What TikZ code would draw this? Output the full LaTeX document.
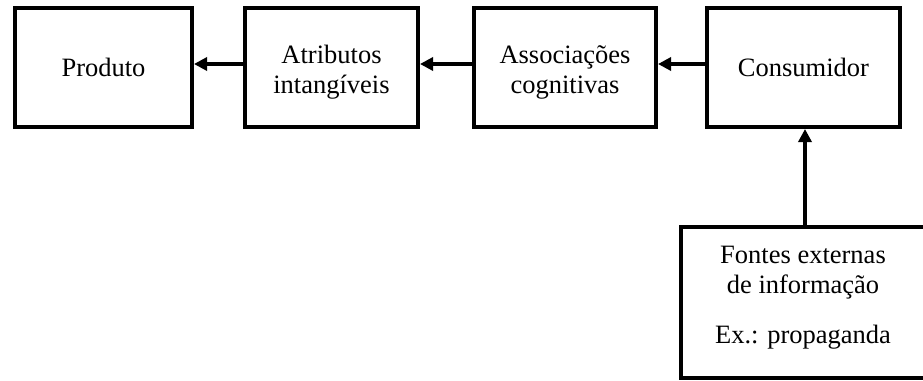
\documentclass[tikz,border=0pt]{standalone}
\usepackage{fontspec}
\setmainfont{Liberation Serif}
\usetikzlibrary{arrows.meta}
\begin{document}
\begin{tikzpicture}[x=1pt,y=-1pt,
  blk/.style={draw, line width=4pt, rectangle, align=center,
    inner sep=0pt, font=\fontsize{26.5}{30}\selectfont},
  txt/.style={font=\fontsize{26.5}{30}\selectfont, align=center, anchor=base, inner sep=0pt},
  link/.style={line width=4pt, -{Triangle[length=13pt,width=13pt]}}]
\useasboundingbox (0,0) rectangle (923,380);
\clip (0,0) rectangle (923,380);
% top row
\node[blk, minimum width=177pt, minimum height=119pt] (prod) at (103.5,67.5) {};
\node[blk, minimum width=173pt, minimum height=119pt] (atrib) at (331.5,67.5) {};
\node[blk, minimum width=182pt, minimum height=119pt] (assoc) at (565,67.5) {};
\node[blk, minimum width=193pt, minimum height=119pt] (cons) at (803.5,67.5) {};
\node[txt] (prodt) at (prod.center |- 0,76) {Produto};
\node[txt] (atribt) at (atrib.center |- 0,93) {Atributos\\intangíveis};
\node[txt] (assoct) at (assoc.center |- 0,93) {Associações\\cognitivas};
\node[txt] (const) at (cons.center |- 0,76) {Consumidor};
% external sources
\node[blk, minimum width=248pt, minimum height=151pt] (fontes) at (805,302.5) {};
\node[txt] (ft1) at (803,263) {Fontes externas};
\node[txt] (ft2) at (803,293) {de informação};
\node[txt] (ft3) at (803,343) {Ex.: propaganda};
% connectors
\draw[link] ([yshift=3.5pt]atrib.west) -- ([yshift=3.5pt]prod.east);
\draw[link] ([yshift=3.5pt]assoc.west) -- ([yshift=3.5pt]atrib.east);
\draw[link] ([yshift=3.5pt]cons.west) -- ([yshift=3.5pt]assoc.east);
\draw[link] (fontes.north) -- (fontes.north |- cons.south);
\end{tikzpicture}
\end{document}
